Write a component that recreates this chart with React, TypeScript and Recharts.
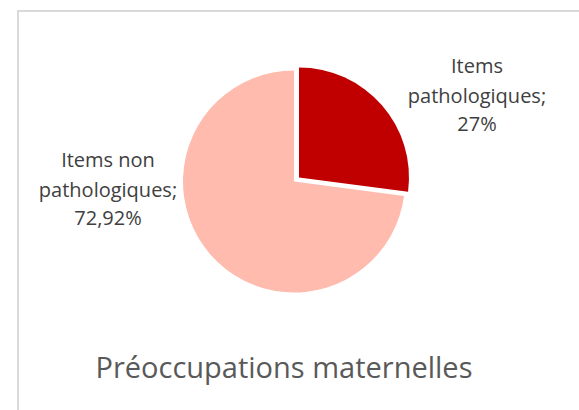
import React from "react";
import { PieChart, Pie, Cell, Customized } from "recharts";

const categories = ["Items pathologiques", "Items non pathologiques"];
const values = [27.08, 72.92];
const valueLabels = ["27%", "72,92%"];
const title = "Préoccupations maternelles";

const data = categories.map((name, i) => ({ name, value: values[i], label: valueLabels[i] }));

const RED = "#C00000";
const PINK = "#FEBBAE";

const FONT = "'Open Sans', 'Noto Sans', sans-serif";

const renderRedLabel = (props: any) => {
  if (props.index !== 0) return null;
  const x = props.cx + 178;
  const y = props.cy - 104.5;
  return (
    <text x={x} y={y} textAnchor="middle" fill="#404040" fontSize={20} fontFamily={FONT}>
      <tspan x={x} dy={0}>Items</tspan>
      <tspan x={x} dy={29.5}>pathologiques;</tspan>
      <tspan x={x} dy={28.5}>{props.payload.label}</tspan>
    </text>
  );
};

const renderPinkLabel = (props: any) => {
  if (props.index !== 1) return null;
  const x = props.cx - 186;
  const y = props.cy - 14.5;
  return (
    <text x={x} y={y} textAnchor="middle" fill="#404040" fontSize={20} fontFamily={FONT}>
      <tspan x={x} dy={0}>Items non</tspan>
      <tspan x={x} dy={29.5}>pathologiques;</tspan>
      <tspan x={x} dy={28.5}>{props.payload.label}</tspan>
    </text>
  );
};

export default function App() {
  return (
    <div style={{ position: "absolute", left: 0, top: 0, width: 579, height: 410, background: "#fff", overflow: "hidden" }}>
      <div
        style={{
          position: "absolute",
          left: 17,
          top: 10,
          width: 600,
          height: 450,
          border: "2px solid #D9D9D9",
          boxSizing: "border-box",
        }}
      />
      <div style={{ position: "absolute", left: 0, top: 0 }}>
        <PieChart width={579} height={410} margin={{ top: 0, right: 0, bottom: 0, left: 0 }}>
          <Pie
            data={data}
            dataKey="value"
            cx={294}
            cy={181.5}
            outerRadius={111}
            startAngle={90}
            endAngle={-270}
            isAnimationActive={false}
            stroke="none"
            label={renderPinkLabel}
            labelLine={false}
          >
            {data.map((d, i) => (
              <Cell key={d.name} fill={i === 1 ? PINK : "none"} />
            ))}
          </Pie>
          <Pie
            data={data}
            dataKey="value"
            cx={299}
            cy={177.5}
            outerRadius={110}
            startAngle={90}
            endAngle={-270}
            isAnimationActive={false}
            stroke="none"
            label={renderRedLabel}
            labelLine={false}
          >
            {data.map((d, i) => (
              <Cell key={d.name} fill={i === 0 ? RED : "none"} />
            ))}
          </Pie>
          <Customized
            component={() => (
              <text x={284} y={378} textAnchor="middle" fill="#595959" fontSize={29} fontFamily={FONT}>
                {title}
              </text>
            )}
          />
        </PieChart>
      </div>
    </div>
  );
}
